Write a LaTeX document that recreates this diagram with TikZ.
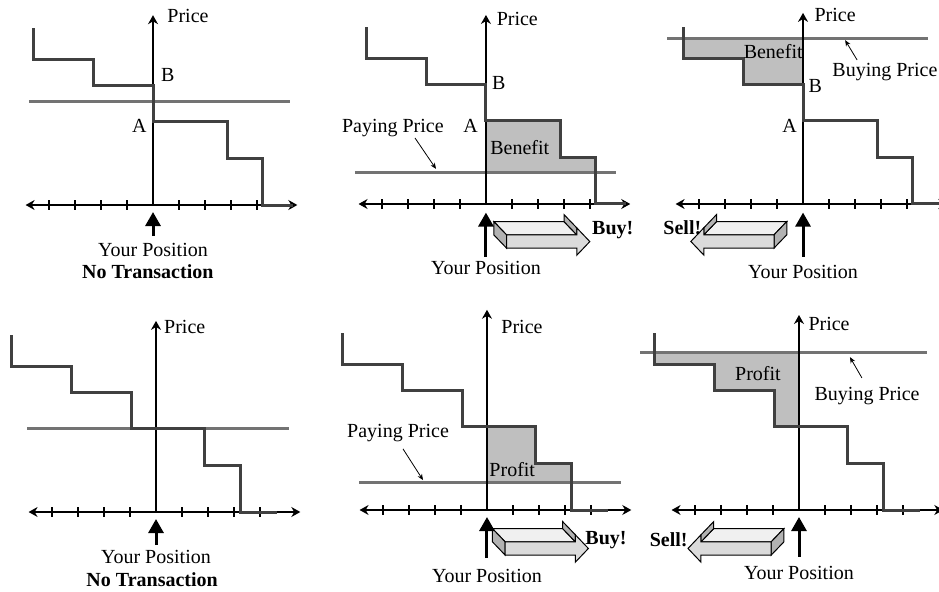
\documentclass[tikz,border=0pt]{standalone}
\usepackage{fontspec}
\setmainfont{Liberation Serif}
\usetikzlibrary{arrows.meta}

\begin{document}
\begin{tikzpicture}[x=13pt, y=13pt, font=\fontsize{10}{12}\selectfont,
    >={Stealth[length=4.5pt,width=5pt]},
    axisline/.style={line width=0.6pt},
    demand/.style={line width=1.5pt, draw=black!75},
    pricebar/.style={line width=1.5pt, draw=black!55},
    gain/.style={fill=black!25},
    pointer/.style={line width=0.4pt, -{Stealth[length=3pt,width=2.5pt]}},
    position/.style={line width=1.5pt, -{Triangle[length=7pt,width=7.5pt]}},
    price axes/.pic={
        \draw[axisline, <->] (-4.9,0) -- (5.55,0);
        \foreach \tk in {-4,-3,-2,-1,1,2,3,4}
            \draw[axisline] (\tk,-0.19) -- (\tk,0.19);
        \draw[axisline, ->] (0,0) -- (0,#1);
    },
    block arrow/.pic={
        % top, end and head faces, then the front
        \filldraw[fill=black!6, line width=0.5pt] (0,0.255) -- (2.7,0.255) -- (2.21,0.765) -- (-0.49,0.765) -- cycle;
        \filldraw[fill=black!30, line width=0.5pt] (0,-0.255) -- (0,0.255) -- (-0.49,0.765) -- (-0.49,0.255) -- cycle;
        \filldraw[fill=black!30, line width=0.5pt] (2.7,0.255) -- (2.7,0.525) -- (2.21,1.035) -- (2.21,0.765) -- cycle;
        \filldraw[fill=black!14, line width=0.5pt] (0,-0.255) -- (2.7,-0.255) -- (2.7,-0.525) -- (3.2,0)
            -- (2.7,0.525) -- (2.7,0.255) -- (0,0.255) -- cycle;
    }]
    \useasboundingbox (0,0) rectangle (36.115,-22.769);

    % Panel 1: no transaction, B above A
    \begin{scope}[shift={(5.885,-7.885)}]
        \draw[pricebar] (-4.77,4) -- (5.27,4);
        \pic {price axes=7.3};
        \draw[demand] (-4.6,6.8) |- (-2.3,5.6) |- (0,4.6) |- (2.85,3.2) |- (4.2,1.8) |- (5.4,0);
        \node[anchor=west, inner sep=0] (price1) at (0.54,7.27) {Price};
        \node[anchor=west, inner sep=0] (b1) at (0.3,5.0) {B};
        \node[anchor=east, inner sep=0] (a1) at (-0.23,3.04) {A};
        \coordinate (foot1) at (0,-1.2);
        \coordinate (tip1) at (0,-0.27);
        \draw[position] (foot1) -- (tip1);
        \node (pos1) at (0,-1.73) {Your Position};
        \node (none1) at (-0.2,-2.58) {\bfseries No Transaction};
    \end{scope}

    % Panel 2: buy, benefit above the paying price
    \begin{scope}[shift={(18.69,-7.846)}]
        \fill[gain] (0,1.2) |- (2.85,3.2) |- (4.2,1.8) -- (4.2,1.2) -- cycle;
        \draw[pricebar] (-5.04,1.2) -- (5,1.2);
        \pic {price axes=7.27};
        \draw[demand] (-4.6,6.8) |- (-2.3,5.6) |- (0,4.6) |- (2.85,3.2) |- (4.2,1.8) |- (5.4,0);
        \node[anchor=west, inner sep=0] (price2) at (0.4,7.1) {Price};
        \node[anchor=west, inner sep=0] (b2) at (0.22,4.65) {B};
        \node[anchor=east, inner sep=0] (a2) at (-0.3,3.0) {A};
        \node (paying2) at (-3.58,2.92) {Paying Price};
        \coordinate (from2) at (-2.73,2.54);
        \coordinate (to2) at (-1.92,1.35);
        \draw[pointer] (from2) -- (to2);
        \node (benefit2) at (1.3,2.19) {Benefit};
        \pic at (0.795,-1.445) {block arrow};
        \node[anchor=west, inner sep=0] (buy2) at (4.07,-1.0) {\bfseries Buy!};
        \coordinate (foot2) at (0,-2.03);
        \coordinate (tip2) at (0,-0.33);
        \draw[position] (foot2) -- (tip2);
        \node (pos2) at (0,-2.46) {Your Position};
    \end{scope}

    % Panel 3: sell, benefit below the buying price
    \begin{scope}[shift={(30.885,-7.846)}]
        \fill[gain] (-4.6,6.38) |- (-2.3,5.6) |- (0,4.6) -- (0,6.38) -- cycle;
        \draw[pricebar] (-5.23,6.38) -- (4.8,6.38);
        \pic {price axes=7.35};
        \draw[demand] (-4.6,6.8) |- (-2.3,5.6) |- (0,4.6) |- (2.85,3.2) |- (4.2,1.8) |- (5.4,0);
        \node[anchor=west, inner sep=0] (price3) at (0.43,7.27) {Price};
        \node[anchor=west, inner sep=0] (b3) at (0.2,4.54) {B};
        \node[anchor=east, inner sep=0] (a3) at (-0.22,3.0) {A};
        \node[anchor=east, inner sep=0] (benefit3) at (0,5.85) {Benefit};
        \node (buying3) at (3.15,5.08) {Buying Price};
        \coordinate (from3) at (2.08,5.54);
        \coordinate (to3) at (1.62,6.3);
        \draw[pointer] (from3) -- (to3);
        \pic[xscale=-1] at (-1.115,-1.44) {block arrow};
        \node[anchor=east, inner sep=0] (sell3) at (-3.9,-0.92) {\bfseries Sell!};
        \coordinate (foot3) at (0,-2.03);
        \coordinate (tip3) at (0,-0.33);
        \draw[position] (foot3) -- (tip3);
        \node (pos3) at (0,-2.6) {Your Position};
    \end{scope}

    % Panel 4: no transaction, price on the step
    \begin{scope}[shift={(6.0,-19.692)}]
        \draw[pricebar] (-4.96,3.2) -- (5.1,3.2);
        \pic {price axes=7.35};
        \draw[demand] (-5.55,6.8) |- (-3.25,5.6) |- (-0.95,4.6) |- (1.85,3.2) |- (3.25,1.8) |- (4.65,0);
        \node[anchor=west, inner sep=0] (price4) at (0.3,7.1) {Price};
        \coordinate (foot4) at (0,-1.27);
        \coordinate (tip4) at (0,-0.27);
        \draw[position] (foot4) -- (tip4);
        \node (pos4) at (0,-1.73) {Your Position};
        \node (none4) at (-0.15,-2.62) {\bfseries No Transaction};
    \end{scope}

    % Panel 5: buy, profit above the paying price
    \begin{scope}[shift={(18.73,-19.615)}]
        \fill[gain] (0,1.04) |- (1.85,3.2) |- (3.25,1.8) -- (3.25,1.04) -- cycle;
        \draw[pricebar] (-4.92,1.04) -- (5.15,1.04);
        \pic {price axes=7.7};
        \draw[demand] (-5.55,6.8) |- (-3.25,5.6) |- (-0.95,4.6) |- (1.85,3.2) |- (3.25,1.8) |- (4.65,0);
        \node[anchor=west, inner sep=0] (price5) at (0.54,7.04) {Price};
        \node[anchor=west, inner sep=0] (profit5) at (0.08,1.54) {Profit};
        \node (paying5) at (-3.42,2.96) {Paying Price};
        \coordinate (from5) at (-3.23,2.35);
        \coordinate (to5) at (-2.46,1.15);
        \draw[pointer] (from5) -- (to5);
        \pic at (0.7,-1.48) {block arrow};
        \node[anchor=west, inner sep=0] (buy5) at (3.77,-1.15) {\bfseries Buy!};
        \coordinate (foot5) at (0,-1.85);
        \coordinate (tip5) at (0,-0.27);
        \draw[position] (foot5) -- (tip5);
        \node (pos5) at (0,-2.54) {Your Position};
    \end{scope}

    % Panel 6: sell, profit below the buying price
    \begin{scope}[shift={(30.73,-19.615)}]
        \fill[gain] (-5.55,6.04) |- (-3.25,5.6) |- (-0.95,4.6) |- (0,3.2) -- (0,6.04) -- cycle;
        \draw[pricebar] (-6.1,6.04) -- (4.92,6.04);
        \pic {price axes=7.5};
        \draw[demand] (-5.55,6.8) |- (-3.25,5.6) |- (-0.95,4.6) |- (1.85,3.2) |- (3.25,1.8) |- (4.65,0);
        \node[anchor=west, inner sep=0] (price6) at (0.35,7.15) {Price};
        \node (profit6) at (-1.58,5.23) {Profit};
        \node (buying6) at (2.62,4.38) {Buying Price};
        \coordinate (from6) at (2.42,5.08);
        \coordinate (to6) at (1.96,5.88);
        \draw[pointer] (from6) -- (to6);
        \pic[xscale=-1] at (-1.07,-1.48) {block arrow};
        \node[anchor=east, inner sep=0] (sell6) at (-4.27,-1.15) {\bfseries Sell!};
        \coordinate (foot6) at (0,-1.8);
        \coordinate (tip6) at (0,-0.27);
        \draw[position] (foot6) -- (tip6);
        \node (pos6) at (0,-2.42) {Your Position};
    \end{scope}
\end{tikzpicture}
\end{document}
